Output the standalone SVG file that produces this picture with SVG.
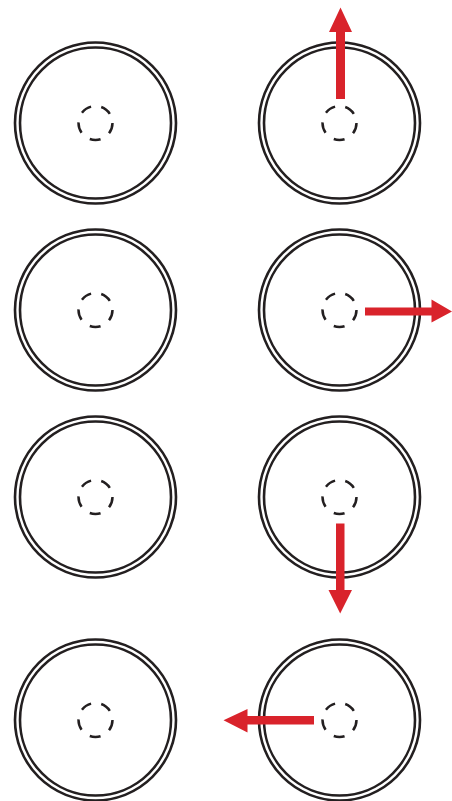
<svg xmlns="http://www.w3.org/2000/svg" width="452" height="801" viewBox="0 0 452 801">
<style>
.ring{fill:none;stroke:#231f20;stroke-width:2.6}
.core{fill:none;stroke:#231f20;stroke-width:2.5;stroke-dasharray:11 10.36}
.arrow{fill:#d9232b;stroke:none}
</style>
<defs>
<g id="disc">
<circle class="ring" r="80.5"/>
<circle class="ring" r="75.5"/>
<circle class="core" r="17"/>
</g>
</defs>
<rect width="452" height="801" fill="#ffffff"/>
<g id="node-l1" transform="translate(95.5,123)"><use href="#disc"/></g>
<g id="node-l2" transform="translate(95.5,310)"><use href="#disc"/></g>
<g id="node-l3" transform="translate(95.5,497)"><use href="#disc"/></g>
<g id="node-l4" transform="translate(95.5,720)"><use href="#disc"/></g>
<g id="node-r1" transform="translate(339.5,123)"><use href="#disc"/></g>
<g id="node-r2" transform="translate(339.5,310)"><use href="#disc"/></g>
<g id="node-r3" transform="translate(339.5,497)"><use href="#disc"/></g>
<g id="node-r4" transform="translate(339.5,720)"><use href="#disc"/></g>
<g id="connectors">
<polygon class="arrow" points="336,99 345,99 345,32 352,32 340.5,7.5 329,32 336,32"/>
<polygon class="arrow" points="365,307.5 365,315.5 431.5,315.5 431.5,322.5 452,311.5 431.5,299.5 431.5,307.5"/>
<polygon class="arrow" points="336,523.5 344.5,523.5 344.5,590 352,590 340.2,613.5 328.5,590 336,590"/>
<polygon class="arrow" points="314,716 314,724.5 247.5,724.5 247.5,732.5 223.5,720.3 247.5,709 247.5,716"/>
</g>
</svg>
